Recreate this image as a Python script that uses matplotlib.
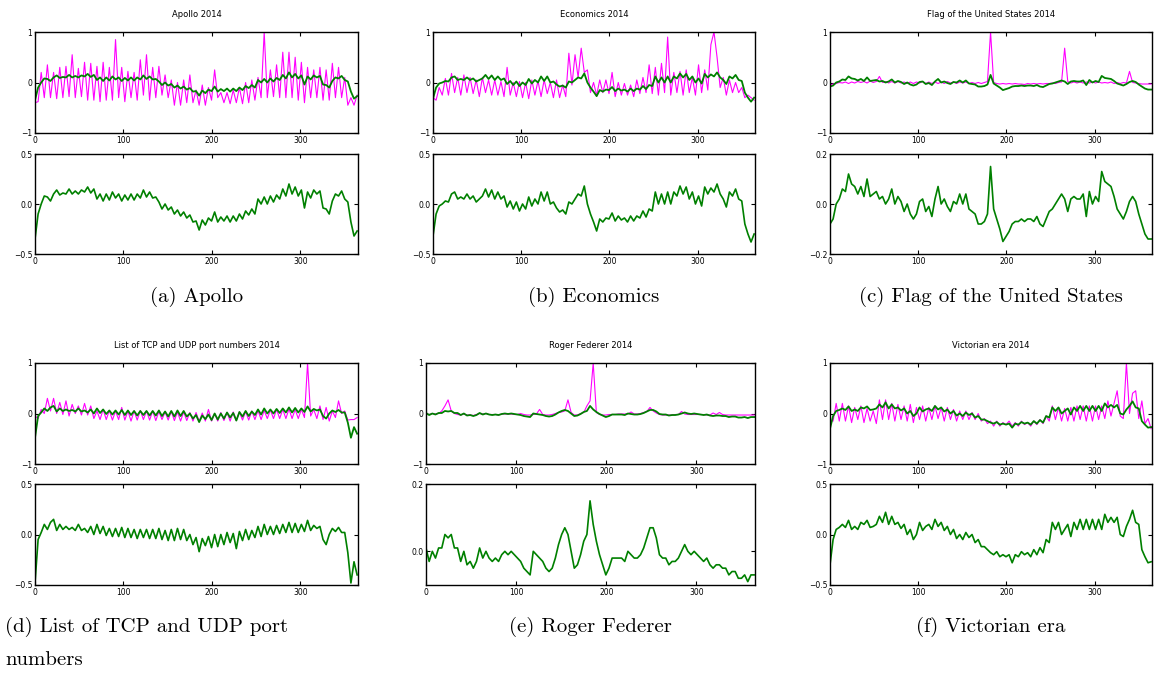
import numpy as np
import matplotlib
matplotlib.use("Agg")
import matplotlib.pyplot as plt

W, H = 1158, 677

# 3.5-day sampling of the 2014 daily series
days = np.arange(105) * 3.5

apollo_pink = [-0.4, -0.38, 0.2, -0.3, 0.35, -0.3, 0.2, -0.32, 0.3, -0.3,
               0.32, -0.28, 0.55, -0.3, 0.28, -0.28, 0.4, -0.35, 0.38, -0.35,
               0.32, -0.38, 0.4, -0.35, 0.3, -0.35, 0.85, -0.3, 0.3, -0.38,
               0.22, -0.3, 0.2, -0.35, 0.45, -0.25, 0.55, -0.35, 0.3, -0.3,
               0.32, -0.25, 0.15, -0.3, 0.05, -0.45, 0.0, -0.45, 0.05, -0.4,
               0.15, -0.4, -0.15, -0.45, -0.05, -0.45, -0.1, -0.35, 0.25, -0.3,
               -0.2, -0.4, -0.2, -0.42, -0.15, -0.4, -0.1, -0.42, 0.0, -0.4,
               0.05, -0.35, 0.1, -0.3, 1.0, -0.3, 0.25, -0.28, 0.35, -0.3,
               0.6, -0.3, 0.6, -0.3, 0.5, -0.35, 0.4, -0.4, 0.3, -0.3,
               0.25, -0.3, 0.3, -0.35, 0.25, -0.35, 0.38, -0.3, 0.3, -0.3,
               0.1, -0.45, -0.3, -0.45, -0.25]
apollo_green = [-0.35, -0.1, 0.0, 0.08, 0.07, 0.03, 0.1, 0.14, 0.09, 0.11,
                0.1, 0.15, 0.1, 0.13, 0.1, 0.14, 0.12, 0.17, 0.11, 0.15,
                0.05, 0.1, 0.03, 0.1, 0.04, 0.12, 0.06, 0.1, 0.03, 0.09,
                0.04, 0.1, 0.04, 0.1, 0.06, 0.14, 0.07, 0.12, 0.06, 0.07,
                0.02, -0.05, 0.0, -0.06, -0.03, -0.1, -0.06, -0.12, -0.08, -0.14,
                -0.11, -0.18, -0.17, -0.26, -0.16, -0.21, -0.14, -0.17, -0.08, -0.18,
                -0.13, -0.17, -0.12, -0.18, -0.12, -0.17, -0.1, -0.15, -0.07, -0.11,
                -0.05, -0.1, 0.05, 0.0, 0.07, 0.0, 0.08, 0.02, 0.09, 0.05,
                0.15, 0.08, 0.2, 0.1, 0.17, 0.08, 0.14, -0.04, 0.12, 0.06,
                0.14, 0.1, 0.13, -0.04, -0.05, -0.1, 0.03, 0.1, 0.08, 0.13,
                0.05, 0.02, -0.18, -0.32, -0.27]

economics_pink = [-0.3, -0.35, -0.1, -0.25, 0.08, -0.25, 0.18, -0.2, 0.1, -0.25,
                  0.15, -0.2, 0.1, -0.22, 0.05, -0.28, 0.1, -0.2, 0.05, -0.25,
                  0.05, -0.25, 0.02, -0.28, 0.3, -0.25, 0.0, -0.28, 0.02, -0.3,
                  0.0, -0.32, 0.05, -0.25, 0.03, -0.28, 0.05, -0.22, 0.0, -0.3,
                  0.05, -0.3, -0.05, -0.28, 0.58, -0.05, 0.55, 0.1, 0.68, 0.2,
                  0.25, -0.2, 0.0, -0.25, 0.05, -0.2, 0.05, -0.22, 0.2, -0.28,
                  0.0, -0.25, -0.02, -0.25, -0.05, -0.28, 0.05, -0.22, 0.1, -0.2,
                  0.35, -0.22, 0.3, -0.25, 0.38, -0.2, 0.9, -0.25, 0.2, -0.2,
                  0.22, -0.25, 0.25, -0.2, 0.1, -0.25, 0.35, -0.2, 0.25, -0.15,
                  0.75, 1.0, 0.5, -0.1, 0.1, -0.25, 0.05, -0.2, 0.0, -0.2,
                  -0.1, -0.3, -0.25, -0.3, -0.35]
economics_green = [-0.32, -0.1, -0.02, 0.0, 0.03, 0.02, 0.1, 0.12, 0.05, 0.07,
                   0.05, 0.1, 0.05, 0.08, 0.02, 0.05, 0.08, 0.15, 0.07, 0.14,
                   0.05, 0.12, 0.05, 0.08, -0.03, 0.03, -0.05, 0.02, -0.07, 0.0,
                   -0.05, 0.07, -0.02, 0.05, 0.0, 0.12, 0.03, 0.12, 0.0, 0.02,
                   -0.04, -0.08, -0.06, -0.1, 0.02, 0.0, 0.05, 0.1, 0.08, 0.18,
                   0.0, -0.1, -0.18, -0.27, -0.15, -0.18, -0.14, -0.15, -0.09, -0.17,
                   -0.12, -0.16, -0.14, -0.18, -0.12, -0.17, -0.12, -0.14, -0.07, -0.13,
                   -0.05, -0.07, 0.12, 0.0, 0.1, 0.0, 0.12, 0.0, 0.12, 0.08,
                   0.18, 0.1, 0.17, 0.05, 0.12, 0.0, 0.08, -0.02, 0.17, 0.1,
                   0.16, 0.12, 0.2, 0.1, 0.05, -0.03, 0.12, 0.08, 0.15, 0.05,
                   0.03, -0.2, -0.3, -0.38, -0.3]

flag_pink = [-0.05, -0.03, -0.02, 0.0, -0.01, 0.01, -0.02, 0.01, -0.01, 0.02,
             0.0, 0.02, -0.01, 0.03, 0.0, 0.02, 0.12, 0.0, 0.02, -0.01,
             0.02, -0.01, 0.02, -0.01, 0.01, -0.02, 0.01, -0.02, 0.01, -0.01,
             0.02, -0.02, 0.01, -0.02, 0.01, -0.02, 0.01, -0.02, 0.02, -0.01,
             0.01, -0.02, 0.01, -0.01, 0.01, -0.02, 0.0, -0.02, 0.0, -0.02,
             0.0, 0.02, 1.0, 0.0, -0.02, -0.03, -0.02, -0.03, -0.02, -0.03,
             -0.02, -0.03, -0.03, -0.04, -0.02, -0.03, -0.02, -0.03, -0.02, -0.03,
             -0.02, -0.02, -0.01, -0.02, 0.0, 0.01, 0.68, 0.02, -0.01, 0.01,
             -0.01, 0.01, -0.01, 0.01, -0.01, 0.01, -0.01, 0.01, -0.01, 0.0,
             -0.01, 0.01, -0.02, 0.0, -0.02, 0.0, -0.01, 0.22, 0.0, -0.01,
             -0.02, -0.03, -0.03, -0.03, -0.03]
flag_green = [-0.08, -0.06, 0.0, 0.02, 0.06, 0.05, 0.12, 0.08, 0.07, 0.04,
              0.07, 0.03, 0.1, 0.03, 0.04, 0.05, 0.02, 0.03, 0.0, 0.02,
              0.06, 0.0, 0.03, 0.01, -0.03, 0.0, -0.04, -0.06, -0.04, 0.01,
              0.02, -0.03, -0.01, -0.05, 0.02, 0.07, 0.0, 0.02, -0.01, -0.03,
              0.01, 0.0, 0.04, 0.0, 0.04, -0.02, -0.03, -0.04, -0.08, -0.08,
              -0.07, -0.04, 0.15, -0.02, -0.06, -0.1, -0.15, -0.13, -0.11, -0.08,
              -0.07, -0.07, -0.06, -0.07, -0.06, -0.06, -0.07, -0.05, -0.08, -0.09,
              -0.06, -0.03, -0.02, 0.0, 0.02, 0.04, 0.02, -0.03, 0.02, 0.03,
              0.02, 0.02, 0.04, -0.05, 0.05, 0.0, 0.03, 0.01, 0.13, 0.09,
              0.08, 0.07, 0.03, -0.02, -0.04, -0.06, -0.03, 0.01, 0.03, 0.01,
              -0.04, -0.08, -0.12, -0.14, -0.14]

tcp_pink = [-0.05, -0.1, 0.08, 0.0, 0.3, 0.05, 0.3, 0.0, 0.22, -0.02,
            0.25, -0.05, 0.18, 0.0, 0.15, -0.03, 0.2, -0.03, 0.15, -0.1,
            0.05, -0.12, 0.08, -0.12, 0.06, -0.13, 0.05, -0.12, 0.12, -0.13,
            0.05, -0.15, 0.05, -0.13, 0.06, -0.12, 0.05, -0.13, 0.05, -0.14,
            0.04, -0.12, 0.03, -0.13, 0.04, -0.14, 0.03, -0.15, 0.03, -0.14,
            0.02, -0.15, 0.02, -0.16, 0.01, -0.15, 0.08, -0.15, 0.0, -0.15,
            0.02, -0.14, 0.02, -0.15, 0.03, -0.14, 0.03, -0.13, 0.04, -0.13,
            0.05, -0.12, 0.06, -0.12, 0.06, -0.1, 0.07, -0.1, 0.08, -0.1,
            0.08, -0.1, 0.09, -0.1, 0.08, -0.1, 0.08, -0.08, 1.0, -0.05,
            0.08, -0.1, 0.15, -0.12, 0.12, -0.15, 0.05, -0.08, 0.25, 0.0,
            0.05, -0.13, -0.12, -0.12, -0.08]
tcp_green = [-0.48, -0.05, 0.02, 0.1, 0.05, 0.12, 0.15, 0.04, 0.1, 0.05,
             0.08, 0.05, 0.07, 0.04, 0.1, 0.04, 0.06, 0.02, 0.08, 0.0,
             0.1, 0.01, 0.08, -0.01, 0.06, -0.02, 0.06, -0.02, 0.07, -0.03,
             0.06, -0.03, 0.05, -0.04, 0.05, -0.03, 0.05, -0.04, 0.05, -0.04,
             0.06, -0.05, 0.04, -0.06, 0.05, -0.06, 0.06, -0.05, 0.05, -0.06,
             0.0, -0.1, -0.03, -0.17, -0.04, -0.11, -0.02, -0.13, 0.0, -0.12,
             0.0, -0.1, 0.02, -0.08, 0.01, -0.14, 0.03, -0.06, 0.05, -0.05,
             0.04, -0.03, 0.08, -0.02, 0.1, 0.0, 0.08, 0.0, 0.09, 0.01,
             0.1, 0.02, 0.12, 0.02, 0.11, 0.02, 0.1, 0.03, 0.14, 0.04,
             0.09, 0.06, 0.08, -0.05, -0.1, 0.0, 0.06, 0.03, 0.07, 0.02,
             0.02, -0.18, -0.48, -0.27, -0.4]

federer_pink = [-0.01, -0.02, 0.0, -0.01, 0.0, 0.05, 0.15, 0.27, 0.05, 0.0,
                -0.02, -0.03, -0.01, -0.03, -0.03, -0.04, -0.02, 0.0, -0.01, 0.0,
                -0.02, -0.02, -0.02, -0.03, -0.01, -0.01, -0.01, -0.01, -0.02, -0.02,
                0.0, -0.02, -0.03, -0.03, -0.02, -0.01, 0.08, -0.02, -0.03, -0.03,
                -0.02, 0.0, 0.02, 0.03, 0.05, 0.27, 0.02, -0.03, -0.03, 0.0,
                0.02, 0.15, 0.25, 1.0, 0.02, -0.02, -0.03, -0.03, -0.02, -0.02,
                -0.02, -0.01, -0.01, -0.01, -0.01, 0.03, -0.01, -0.01, 0.0, 0.02,
                0.04, 0.12, 0.05, 0.01, -0.02, -0.03, -0.03, -0.03, -0.03, -0.02,
                -0.02, 0.04, -0.01, -0.02, -0.02, -0.02, -0.02, -0.02, -0.02, -0.03,
                -0.03, 0.01, -0.02, 0.02, -0.02, -0.03, -0.03, -0.03, -0.03, -0.03,
                -0.03, -0.03, -0.03, -0.03, -0.03]
federer_green = [0.01, -0.03, 0.0, -0.02, 0.01, 0.01, 0.05, 0.04, 0.05, 0.01,
                 0.01, -0.03, 0.0, -0.04, -0.03, -0.05, -0.03, 0.01, -0.02, 0.0,
                 -0.02, -0.03, -0.02, -0.03, -0.01, 0.0, -0.01, 0.0, -0.01, -0.02,
                 -0.03, -0.05, -0.06, -0.07, 0.0, -0.01, -0.02, -0.03, -0.05, -0.06,
                 -0.05, -0.02, 0.02, 0.05, 0.07, 0.05, 0.0, -0.05, -0.04, -0.01,
                 0.03, 0.05, 0.15, 0.08, 0.03, -0.01, -0.04, -0.07, -0.05, -0.02,
                 -0.02, -0.02, -0.02, -0.03, 0.0, -0.01, -0.02, -0.02, -0.01, 0.01,
                 0.04, 0.07, 0.07, 0.04, -0.01, -0.02, -0.02, -0.04, -0.03, -0.03,
                 -0.02, 0.0, 0.02, 0.0, -0.01, 0.0, -0.01, -0.02, -0.03, -0.02,
                 -0.04, -0.05, -0.04, -0.04, -0.05, -0.05, -0.07, -0.06, -0.06, -0.08,
                 -0.08, -0.07, -0.09, -0.07, -0.07]

victorian_pink = [-0.15, -0.15, 0.2, -0.15, 0.2, -0.15, 0.15, -0.18, 0.12, -0.12,
                  0.15, -0.18, 0.1, -0.15, 0.05, -0.2, 0.27, -0.12, 0.27, -0.12,
                  0.2, -0.15, 0.18, -0.12, 0.15, -0.15, 0.18, -0.18, 0.12, -0.12,
                  0.15, -0.15, 0.12, -0.12, 0.15, -0.1, 0.12, -0.15, 0.12, -0.12,
                  0.08, -0.15, 0.05, -0.12, 0.05, -0.12, 0.02, -0.12, 0.0, -0.15,
                  -0.1, -0.2, -0.15, -0.25, -0.15, -0.25, -0.18, -0.22, -0.15, -0.25,
                  -0.18, -0.25, -0.15, -0.22, -0.18, -0.25, -0.15, -0.22, -0.12, -0.2,
                  -0.05, -0.15, 0.15, -0.12, 0.12, -0.15, 0.1, -0.15, 0.12, -0.15,
                  0.15, -0.12, 0.15, -0.15, 0.15, -0.15, 0.15, -0.12, 0.15, -0.1,
                  0.25, -0.05, 0.2, 0.45, -0.05, -0.1, 1.0, 0.0, 0.4, 0.45,
                  -0.1, 0.25, -0.2, -0.1, -0.3]
victorian_green = [-0.3, -0.05, 0.05, 0.07, 0.1, 0.07, 0.14, 0.05, 0.08, 0.05,
                   0.12, 0.1, 0.14, 0.07, 0.08, 0.1, 0.18, 0.12, 0.22, 0.1,
                   0.18, 0.1, 0.12, 0.06, 0.1, 0.0, 0.05, -0.05, 0.0, 0.12,
                   0.04, 0.08, 0.1, 0.05, 0.15, 0.08, 0.12, 0.04, 0.08, 0.0,
                   0.05, -0.04, 0.0, -0.05, 0.02, -0.03, 0.0, -0.08, -0.05, -0.12,
                   -0.12, -0.15, -0.18, -0.2, -0.17, -0.22, -0.2, -0.22, -0.2, -0.28,
                   -0.2, -0.22, -0.17, -0.2, -0.18, -0.22, -0.15, -0.2, -0.13, -0.18,
                   -0.05, -0.08, 0.12, 0.05, 0.12, 0.0, 0.05, 0.1, -0.02, 0.12,
                   0.05, 0.15, 0.05, 0.15, 0.05, 0.15, 0.05, 0.15, 0.05, 0.2,
                   0.12, 0.17, 0.12, 0.17, 0.0, -0.02, 0.08, 0.15, 0.24, 0.12,
                   0.1, -0.15, -0.22, -0.28, -0.27]

titles = ["Apollo 2014", "Economics 2014", "Flag of the United States 2014",
          "List of TCP and UDP port numbers 2014", "Roger Federer 2014", "Victorian era 2014"]
captions = ["(a) Apollo", "(b) Economics", "(c) Flag of the United States",
            "(d) List of TCP and UDP port", "(e) Roger Federer", "(f) Victorian era"]
pinks = [apollo_pink, economics_pink, flag_pink, tcp_pink, federer_pink, victorian_pink]
greens = [apollo_green, economics_green, flag_green, tcp_green, federer_green, victorian_green]
low_lims = [(-0.5, 0.5), (-0.5, 0.5), (-0.2, 0.2), (-0.5, 0.5), (-0.1, 0.2), (-0.5, 0.5)]
low_ticks = [[-0.5, 0.0, 0.5], [-0.5, 0.0, 0.5], [-0.2, 0.0, 0.2],
             [-0.5, 0.0, 0.5], [0.0, 0.2], [-0.5, 0.0, 0.5]]

fig = plt.figure(figsize=(W / 100, H / 100), dpi=100)


def box(l, t, r, b):
    return [l / W, 1 - b / H, (r - l) / W, (b - t) / H]


def style(ax):
    ax.set_xlim(0, 365)
    ax.set_xticks([0, 100, 200, 300])
    ax.tick_params(direction="in", top=True, right=True, length=3, width=0.8,
                   labelsize=5.5, pad=2, colors="black")
    for s in ax.spines.values():
        s.set_linewidth(1.0)


cols = [[(35, 358), (433, 755), (830, 1152)],
        [(35, 358), (426, 755), (830, 1152)]]
rows = [((32, 133), (154, 254)), ((363, 464), (484, 585))]
cap_y = [297, 627]

for i in range(6):
    r, c = divmod(i, 3)
    l, rr = cols[r][c]
    (t1, b1), (t2, b2) = rows[r]

    ax = fig.add_axes(box(l, t1, rr, b1))
    ax.plot(days, pinks[i], color="#ff00ff", lw=0.8)
    ax.plot(days, greens[i], color="#008000", lw=1.3)
    ax.set_ylim(-1, 1)
    ax.set_yticks([-1, 0, 1])
    style(ax)
    ax.set_title(titles[i], fontsize=6, pad=11)

    ax2 = fig.add_axes(box(l, t2, rr, b2))
    ax2.plot(days, greens[i], color="#008000", lw=1.2)
    ax2.set_ylim(*low_lims[i])
    ax2.set_yticks(low_ticks[i])
    style(ax2)

    if i == 3:
        fig.text(5 / W, 1 - cap_y[r] / H, captions[i], fontsize=15,
                 family="cmr10", ha="left", va="center")
        fig.text(5 / W, 1 - 660 / H, "numbers", fontsize=15,
                 family="cmr10", ha="left", va="center")
    else:
        fig.text((l + rr) / 2 / W, 1 - cap_y[r] / H, captions[i], fontsize=15,
                 family="cmr10", ha="center", va="center")

fig.savefig("out.png", dpi=100)
